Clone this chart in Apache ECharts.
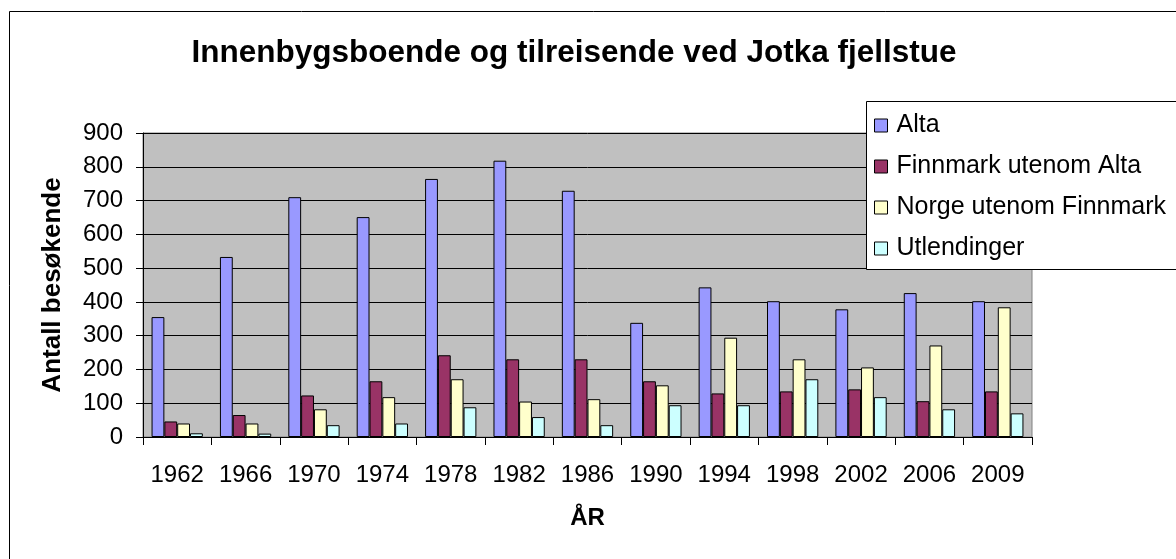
<!DOCTYPE html>
<html>
<head>
<meta charset="utf-8">
<script src="https://cdn.jsdelivr.net/npm/echarts@6/dist/echarts.min.js"></script>
<style>
html,body{margin:0;padding:0;background:#fff;}
#chart{width:1176px;height:559px;}
</style>
</head>
<body>
<div id="chart"></div>
<script>
const years = ['1962','1966','1970','1974','1978','1982','1986','1990','1994','1998','2002','2006','2009'];
const alta = [355, 533, 710, 651, 764, 818, 729, 338, 443, 402, 378, 426, 402];
const finnmark = [46, 65, 123, 165, 242, 230, 230, 165, 129, 135, 141, 106, 135];
const norge = [40, 40, 82, 118, 171, 105, 112, 153, 294, 230, 206, 271, 384];
const utlendinger = [11, 10, 35, 40, 88, 59, 35, 94, 94, 171, 118, 82, 70];
const seriesNames = ['Alta', 'Finnmark utenom Alta', 'Norge utenom Finnmark', 'Utlendinger'];
const yTicks = [0, 100, 200, 300, 400, 500, 600, 700, 800, 900];
const titleText = 'Innenbygsboende og tilreisende ved Jotka fjellstue';
const yName = 'Antall besøkende';
const xName = 'ÅR';

const FONT = 'Arial, "Liberation Sans", sans-serif';
const colors = ['#9999FF', '#993366', '#FFFFCC', '#CCFFFF'];
const dataSets = [alta, finnmark, norge, utlendinger];

const chart = echarts.init(document.getElementById('chart'), null, {renderer: 'canvas'});
const option = {
  animation: false,
  backgroundColor: '#ffffff',
  graphic: [
    {type: 'rect', z: 0, shape: {x: 9.5, y: 11.5, width: 1300, height: 700},
     style: {fill: 'none', stroke: '#000', lineWidth: 1}},
    {type: 'text', z: 1, x: 574, y: 53,
     style: {text: titleText, textAlign: 'center', textVerticalAlign: 'middle',
             font: 'bold 31.5px ' + FONT, fill: '#000'}},
    {type: 'rect', z: 10, shape: {x: 866.5, y: 101.5, width: 400, height: 168},
     style: {fill: '#fff', stroke: '#000', lineWidth: 1}}
  ],
  grid: {left: 143, top: 133, right: 144, bottom: 122, show: true,
         backgroundColor: '#C0C0C0', borderColor: '#808080', borderWidth: 1},
  legend: {
    z: 20,
    orient: 'vertical', left: 869, top: 108,
    itemWidth: 13, itemHeight: 13, itemGap: 16,
    icon: 'rect',
    data: seriesNames,
    itemStyle: {borderColor: '#000', borderWidth: 1},
    textStyle: {fontFamily: FONT, fontSize: 25, color: '#000', padding: [0, 0, 0, 4]}
  },
  xAxis: {
    type: 'category', data: years,
    name: xName, nameLocation: 'middle', nameGap: 69,
    nameTextStyle: {fontFamily: FONT, fontSize: 24, fontWeight: 'bold', color: '#000'},
    axisLine: {show: true, lineStyle: {color: '#000', width: 1}},
    axisTick: {show: true, length: 8, lineStyle: {color: '#000'}},
    axisLabel: {fontFamily: FONT, fontSize: 24, color: '#000', margin: 26, interval: 0},
    splitLine: {show: false}
  },
  yAxis: {
    type: 'value', min: 0, max: 900, interval: 100,
    name: yName, nameLocation: 'middle', nameGap: 77, nameRotate: 90,
    nameTextStyle: {fontFamily: FONT, fontSize: 26, fontWeight: 'bold', color: '#000'},
    axisLine: {show: true, lineStyle: {color: '#000', width: 1}},
    axisTick: {show: true, length: 7, lineStyle: {color: '#000'}},
    axisLabel: {fontFamily: FONT, fontSize: 24, color: '#000', margin: 20,
                formatter: v => yTicks.includes(v) ? String(v) : ''},
    splitLine: {show: true, lineStyle: {color: '#000', width: 1}}
  },
  series: dataSets.map((d, i) => ({
    name: seriesNames[i], type: 'bar', data: d,
    barGap: '0%', barCategoryGap: '25%',
    itemStyle: {color: colors[i], borderColor: '#000', borderWidth: 1}
  }))
};
chart.setOption(option);
</script>
</body>
</html>
